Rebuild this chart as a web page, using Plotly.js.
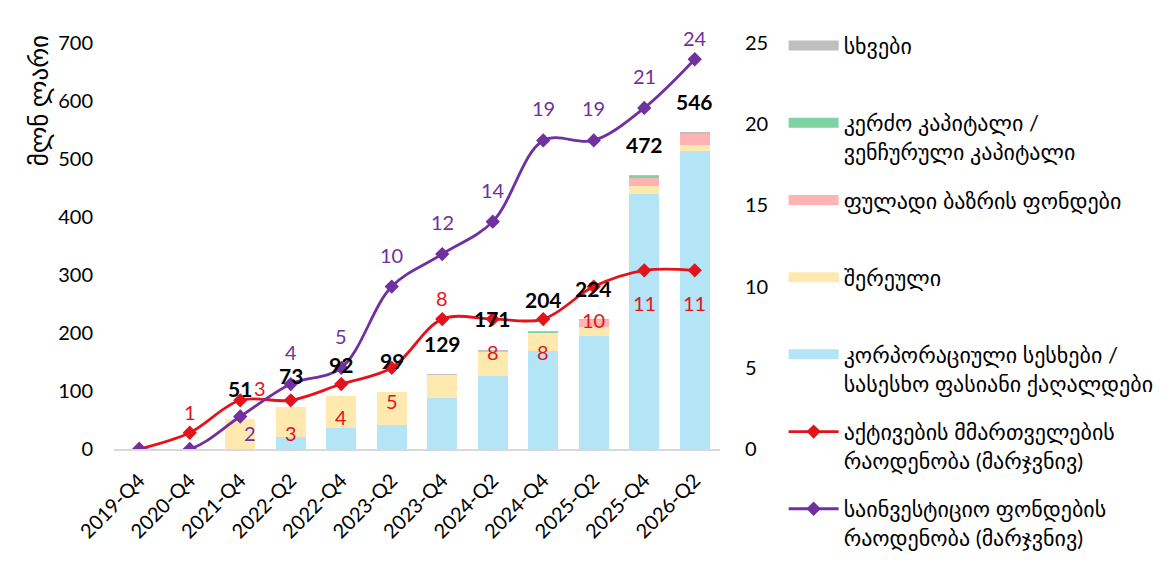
<!DOCTYPE html>
<html>
<head>
<meta charset="utf-8">
<script src="https://cdn.plot.ly/plotly-3.0.1.min.js"></script>
<style>
  html, body { margin: 0; padding: 0; background: #fff; }
  #chart { width: 1174px; height: 582px; }
</style>
</head>
<body>
<div id="chart"></div>
<script>
// ---- data ----
const periods = ['2019-Q4', '2020-Q4', '2021-Q4', '2022-Q2', '2022-Q4', '2023-Q2',
                 '2023-Q4', '2024-Q2', '2024-Q4', '2025-Q2', '2025-Q4', '2026-Q2'];

// million GEL, stacked
const corporateBonds = [0, 0, 0, 20, 37, 41, 88, 126, 169, 195, 440, 513];
const mixedFunds     = [0, 0, 51, 53, 55, 58, 39, 42, 31, 16, 14, 11];
const moneyMarket    = [0, 0, 0, 0, 0, 0, 0, 1, 0, 12, 14, 19];
const privateEquity  = [0, 0, 0, 0, 0, 0, 0, 0, 2, 0, 2, 0];
const otherFunds     = [0, 0, 0, 0, 0, 0, 2, 2, 2, 1, 2, 3];
const totals         = [0, 0, 51, 73, 92, 99, 129, 171, 204, 224, 472, 546];

// counts, right axis
const assetManagers   = [0, 1, 3, 3, 4, 5, 8, 8, 8, 10, 11, 11];
const investmentFunds = [0, 0, 2, 4, 5, 10, 12, 14, 19, 19, 21, 24];

// ---- label placement (style only) ----
const redPos    = ['none', 'top', 'right', 'bottom', 'bottom', 'bottom', 'top', 'bottom', 'bottom', 'bottom', 'bottom', 'bottom'];
const purplePos = ['none', 'none', 'bottomright', 'up', 'up', 'up', 'up', 'up', 'up', 'up', 'up', 'top'];
const shifts = {
    top: [0, 21], up: [0, 32], bottom: [0, -33], right: [20, 12], bottomright: [10, -16]
};

const FONT = 'Lato, "DejaVu Sans", sans-serif';
const RED = '#E3131B';
const PURPLE = '#7030A0';

// ====================================
// TRAZAS
// ====================================
// bars stay out of the legend; a legend-only line stands in so the swatch is a wide strip
const barTrace = (y, color) => ({
    x: periods, y: y, type: 'bar', showlegend: false,
    marker: { color: color, line: { width: 0 } },
    hoverinfo: 'x+y'
});
const swatch = (name, color, rank) => ({
    x: [null], y: [null], type: 'scatter', mode: 'lines', name: name,
    line: { color: color, width: 12 },
    legendgroup: 'g' + rank, legendrank: rank, hoverinfo: 'skip'
});

const trazas = [
    barTrace(corporateBonds, '#B3E5F7'),
    barTrace(mixedFunds, '#FFE9AF'),
    barTrace(moneyMarket, '#FFB3B3'),
    barTrace(privateEquity, '#7FD3A3'),
    barTrace(otherFunds, '#BFBFBF'),
    swatch('სხვები<br> ', '#BFBFBF', 1),
    swatch('კერძო კაპიტალი /<br>ვენჩურული კაპიტალი', '#7FD3A3', 2),
    swatch('ფულადი ბაზრის ფონდები<br> ', '#FFB3B3', 3),
    swatch('შერეული<br> ', '#FFE9AF', 4),
    swatch('კორპორაციული სესხები /<br>სასესხო ფასიანი ქაღალდები', '#B3E5F7', 5),
    {
        x: periods, y: assetManagers, type: 'scatter', mode: 'lines+markers',
        name: 'აქტივების მმართველების<br>რაოდენობა (მარჯვნივ)',
        yaxis: 'y2', legendgroup: 'g6', legendrank: 6,
        line: { color: RED, width: 2.8, shape: 'spline', smoothing: 1 },
        marker: { symbol: 'diamond', size: 11, color: RED }
    },
    {
        x: periods, y: investmentFunds, type: 'scatter', mode: 'lines+markers',
        name: 'საინვესტიციო ფონდების<br>რაოდენობა (მარჯვნივ)',
        yaxis: 'y2', legendgroup: 'g7', legendrank: 7,
        line: { color: PURPLE, width: 2.8, shape: 'spline', smoothing: 1 },
        marker: { symbol: 'diamond', size: 11, color: PURPLE }
    }
];

// ====================================
// ETIQUETAS
// ====================================
const anotaciones = [];

totals.forEach((t, i) => {
    if (!t) return;
    anotaciones.push({
        x: periods[i], y: t, xref: 'x', yref: 'y', text: String(t),
        showarrow: false, yshift: 31, yanchor: 'middle',
        font: { family: FONT, size: 21, color: '#000', weight: 'bold' }
    });
});

const pushLabels = (vals, pos, color) => {
    vals.forEach((v, i) => {
        if (pos[i] === 'none') return;
        const s = shifts[pos[i]];
        anotaciones.push({
            x: periods[i], y: v, xref: 'x', yref: 'y2', text: String(v),
            showarrow: false, xshift: s[0], yshift: s[1], yanchor: 'middle',
            font: { family: FONT, size: 20, color: color }
        });
    });
};
pushLabels(assetManagers, redPos, RED);
pushLabels(investmentFunds, purplePos, PURPLE);

// y axis title sits near the top, like the original
anotaciones.push({
    xref: 'paper', yref: 'paper', x: -0.125, y: 0.857, text: 'მლნ ლარი',
    xanchor: 'center', yanchor: 'middle',
    textangle: -90, showarrow: false,
    font: { family: FONT, size: 25, color: '#000' }
});

// ====================================
// LAYOUT
// ====================================
const layout = {
    width: 1174, height: 582,
    margin: { l: 114, r: 454, t: 43, b: 133 },
    paper_bgcolor: '#fff', plot_bgcolor: '#fff',
    font: { family: FONT, size: 20, color: '#000' },
    barmode: 'stack', bargap: 0.4,
    showlegend: true,
    legend: {
        x: 1.105, xanchor: 'left', y: 1.045, yanchor: 'top',
        traceorder: 'grouped', tracegroupgap: 17, valign: 'top',
        itemwidth: 50, maxheight: 575,
        font: { family: FONT, size: 22, color: '#000' },
        bgcolor: 'rgba(0,0,0,0)'
    },
    xaxis: {
        type: 'category', range: [-0.5, 11.5], tickangle: -45,
        showline: true, linecolor: '#D9D9D9', linewidth: 2,
        showgrid: false, ticks: '', ticklabelstandoff: 10,
        tickfont: { family: FONT, size: 20 }
    },
    yaxis: {
        range: [0, 700], tickvals: [0, 100, 200, 300, 400, 500, 600, 700],
        showgrid: false, zeroline: false, showline: false, ticks: '',
        ticklabelstandoff: 20, tickfont: { family: FONT, size: 20 }
    },
    yaxis2: {
        range: [0, 25], tickvals: [0, 5, 10, 15, 20, 25],
        overlaying: 'y', side: 'right',
        showgrid: false, zeroline: false, showline: false, ticks: '',
        ticklabelstandoff: 24, tickfont: { family: FONT, size: 20 }
    },
    annotations: anotaciones
};

Plotly.newPlot('chart', trazas, layout, { displayModeBar: false, staticPlot: true });
</script>
</body>
</html>
